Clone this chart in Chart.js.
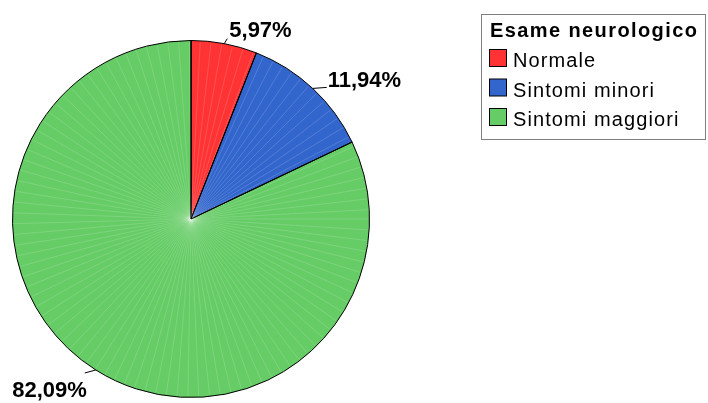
<!DOCTYPE html>
<html>
<head>
<meta charset="utf-8">
<script src="https://cdn.jsdelivr.net/npm/chart.js@4"></script>
<style>
  body { margin: 0; background: #fff; }
  #wrap { width: 708px; height: 403px; }
</style>
</head>
<body>
<div id="wrap"><canvas id="neuroPie" width="708" height="403"></canvas></div>
<script>
const legendTitle = 'Esame neurologico';
const categories = ['Normale', 'Sintomi minori', 'Sintomi maggiori'];
const percentages = [5.97, 11.94, 82.09];
const sliceColors = ['#ff3333', '#3366cc', '#66cc66'];

// where each percentage label goes relative to its slice's arc midpoint
const labelPlacement = [
    { lead: [3, -5], text: [5, -7], align: 'left', base: 'alphabetic' },
    { lead: [14, -1], text: [15, -1], align: 'left', base: 'alphabetic' },
    { lead: [-11, 3], text: [-9, 27], align: 'right', base: 'alphabetic' }
];

function fmt(v) {
    return v.toFixed(2).replace('.', ',') + '%';
}

// faint radial streaks across the pie
const streaks = {
    id: 'streaks',
    afterDatasetsDraw(chart) {
        const arc = chart.getDatasetMeta(0).data[0];
        const c = chart.ctx;
        c.save();
        c.strokeStyle = 'rgba(255,255,255,0.25)';
        c.lineWidth = 0.6;
        for (let a = 0; a < 360; a += 3.5) {
            const t = a * Math.PI / 180;
            c.beginPath();
            c.moveTo(arc.x, arc.y);
            c.lineTo(arc.x + (arc.outerRadius - 1.5) * Math.cos(t), arc.y + (arc.outerRadius - 1.5) * Math.sin(t));
            c.stroke();
        }
        // redraw slice edges on top
        c.strokeStyle = '#000';
        c.lineWidth = 1;
        chart.getDatasetMeta(0).data.forEach(el => {
            c.beginPath();
            c.moveTo(el.x, el.y);
            c.lineTo(el.x + el.outerRadius * Math.cos(el.startAngle), el.y + el.outerRadius * Math.sin(el.startAngle));
            c.stroke();
        });
        c.restore();
    }
};

const pctLabels = {
    id: 'pctLabels',
    afterDraw(chart) {
        const c = chart.ctx;
        const ds = chart.data.datasets[0];
        c.save();
        c.font = 'bold 22px "Liberation Sans", Arial, sans-serif';
        c.fillStyle = '#000';
        c.strokeStyle = '#000';
        c.lineWidth = 1;
        chart.getDatasetMeta(0).data.forEach((el, i) => {
            const mid = (el.startAngle + el.endAngle) / 2;
            const px = el.x + el.outerRadius * Math.cos(mid);
            const py = el.y + el.outerRadius * Math.sin(mid);
            const p = labelPlacement[i];
            c.beginPath();
            c.moveTo(px, py);
            c.lineTo(px + p.lead[0], py + p.lead[1]);
            c.stroke();
            c.textAlign = p.align;
            c.textBaseline = p.base;
            c.fillText(fmt(ds.data[i]), px + p.text[0], py + p.text[1]);
        });
        c.restore();
    }
};

const boxLegend = {
    id: 'boxLegend',
    afterDraw(chart) {
        const c = chart.ctx;
        c.save();
        c.strokeStyle = '#7f7f7f';
        c.lineWidth = 1;
        c.strokeRect(481.5, 14.5, 224, 125);
        c.fillStyle = '#000';
        c.textAlign = 'left';
        c.textBaseline = 'alphabetic';
        c.font = 'bold 20px "Liberation Sans", Arial, sans-serif';
        c.letterSpacing = '1.4px';
        c.fillText(legendTitle, 490, 37);
        c.font = '20px "Liberation Sans", Arial, sans-serif';
        c.letterSpacing = '1.1px';
        categories.forEach((name, i) => {
            const y = 67 + i * 29.5;
            c.fillStyle = sliceColors[i];
            c.fillRect(489.5, y - 17.5, 17, 17);
            c.strokeStyle = '#000';
            c.strokeRect(489.5, y - 17.5, 17, 17);
            c.fillStyle = '#000';
            c.fillText(name, 513, y);
        });
        c.restore();
    }
};

document.addEventListener('DOMContentLoaded', function () {
    const ctx = document.getElementById('neuroPie').getContext('2d');

    new Chart(ctx, {
        type: 'pie',
        data: {
            labels: categories,
            datasets: [{
                data: percentages,
                backgroundColor: sliceColors,
                borderColor: '#000',
                borderWidth: 1
            }]
        },
        options: {
            responsive: false,
            animation: false,
            layout: { padding: { left: 12, right: 338, top: 40, bottom: 5 } },
            plugins: {
                legend: { display: false },
                tooltip: { enabled: false }
            }
        },
        plugins: [streaks, pctLabels, boxLegend]
    });
});
</script>
</body>
</html>
